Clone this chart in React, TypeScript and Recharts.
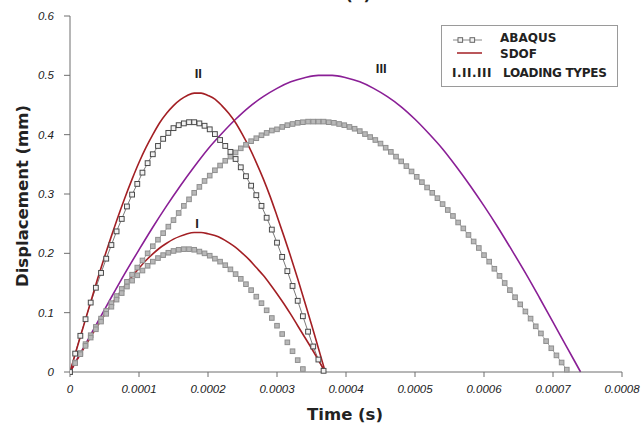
import { LineChart, Line, XAxis, YAxis, ReferenceDot, Legend } from 'recharts';

// time grid of the ABAQUS output, microseconds
const abaqusTime = [
  0, 7.5, 15, 22.5, 30, 37.5, 45, 52.5, 60, 67.5,
  75, 82.5, 90, 97.5, 105, 112.5, 120, 127.5, 135, 142.5,
  150, 157.5, 165, 172.5, 180, 187.5, 195, 202.5, 210, 217.5,
  225, 232.5, 240, 247.5, 255, 262.5, 270, 277.5, 285, 292.5,
  300, 307.5, 315, 322.5, 330, 337.5, 345, 352.5, 360, 367.5,
  375, 382.5, 390, 397.5, 405, 412.5, 420, 427.5, 435, 442.5,
  450, 457.5, 465, 472.5, 480, 487.5, 495, 502.5, 510, 517.5,
  525, 532.5, 540, 547.5, 555, 562.5, 570, 577.5, 585, 592.5,
  600, 607.5, 615, 622.5, 630, 637.5, 645, 652.5, 660, 667.5,
  675, 682.5, 690, 697.5, 705, 712.5, 720,
];

// displacement (mm)
const abaqusI = [
  0, 0.015, 0.030, 0.044, 0.058, 0.072, 0.085, 0.098, 0.110, 0.122,
  0.133, 0.144, 0.154, 0.163, 0.171, 0.179, 0.186, 0.192, 0.197, 0.201,
  0.204, 0.206, 0.207, 0.207, 0.206, 0.203, 0.200, 0.196, 0.191, 0.186,
  0.180, 0.173, 0.165, 0.157, 0.148, 0.138, 0.127, 0.116, 0.104, 0.091,
  0.078, 0.064, 0.050, 0.035, 0.020, 0.005,
];

const abaqusII = [
  0, 0.031, 0.061, 0.089, 0.117, 0.142, 0.167, 0.191, 0.214, 0.237,
  0.258, 0.279, 0.299, 0.317, 0.336, 0.352, 0.367, 0.381, 0.393, 0.403,
  0.411, 0.416, 0.419, 0.421, 0.421, 0.419, 0.415, 0.409, 0.401, 0.391,
  0.381, 0.371, 0.359, 0.345, 0.330, 0.314, 0.298, 0.280, 0.260, 0.240,
  0.218, 0.194, 0.170, 0.145, 0.120, 0.094, 0.068, 0.043, 0.021, 0.002,
];

const abaqusIII = [
  0, 0.016, 0.032, 0.047, 0.062, 0.076, 0.090, 0.103, 0.116, 0.128,
  0.140, 0.152, 0.164, 0.176, 0.188, 0.200, 0.212, 0.223, 0.234, 0.245,
  0.256, 0.268, 0.280, 0.291, 0.302, 0.312, 0.322, 0.331, 0.340, 0.348,
  0.356, 0.363, 0.370, 0.377, 0.383, 0.389, 0.394, 0.399, 0.403, 0.407,
  0.409, 0.413, 0.416, 0.418, 0.420, 0.421, 0.422, 0.422, 0.422, 0.422,
  0.421, 0.420, 0.418, 0.416, 0.413, 0.410, 0.406, 0.401, 0.396, 0.391,
  0.385, 0.378, 0.371, 0.363, 0.355, 0.347, 0.338, 0.329, 0.320, 0.311,
  0.302, 0.293, 0.283, 0.273, 0.263, 0.252, 0.242, 0.231, 0.220, 0.209,
  0.197, 0.186, 0.174, 0.162, 0.150, 0.138, 0.126, 0.114, 0.102, 0.090,
  0.077, 0.065, 0.052, 0.040, 0.028, 0.016, 0.004,
];

// SDOF solutions, microseconds
const sdofTime = [
  0, 10, 20, 30, 40, 50, 60, 70, 80, 90,
  100, 110, 120, 130, 140, 150, 160, 170, 180, 190,
  200, 210, 220, 230, 240, 250, 260, 270, 280, 290,
  300, 310, 320, 330, 340, 350, 360, 370,
];
const sdofI = [
  0, 0.020, 0.040, 0.059, 0.078, 0.096, 0.113, 0.130, 0.146, 0.161,
  0.175, 0.188, 0.199, 0.209, 0.217, 0.224, 0.229, 0.233, 0.235, 0.235,
  0.233, 0.230, 0.225, 0.218, 0.210, 0.200, 0.189, 0.176, 0.163, 0.148,
  0.132, 0.115, 0.097, 0.078, 0.059, 0.040, 0.020, 0,
];
const sdofII = [
  0, 0.040, 0.079, 0.118, 0.157, 0.194, 0.229, 0.263, 0.295, 0.325,
  0.353, 0.378, 0.400, 0.420, 0.436, 0.449, 0.459, 0.466, 0.470, 0.470,
  0.466, 0.460, 0.449, 0.436, 0.420, 0.400, 0.378, 0.353, 0.326, 0.296,
  0.263, 0.229, 0.194, 0.157, 0.119, 0.080, 0.040, 0,
];
const sdofIIITime = [
  0, 20, 40, 60, 80, 100, 120, 140, 160, 180,
  200, 220, 240, 260, 280, 300, 320, 340, 360, 380,
  400, 420, 440, 460, 480, 500, 520, 540, 560, 580,
  600, 620, 640, 660, 680, 700, 720, 740,
];
const sdofIII = [
  0, 0.042, 0.084, 0.126, 0.167, 0.206, 0.244, 0.280, 0.314, 0.346,
  0.376, 0.402, 0.426, 0.447, 0.464, 0.478, 0.489, 0.496, 0.500, 0.500,
  0.496, 0.489, 0.478, 0.464, 0.447, 0.426, 0.402, 0.376, 0.346, 0.314,
  0.280, 0.244, 0.206, 0.167, 0.126, 0.084, 0.042, 0,
];

const xTicks = [0, 0.0001, 0.0002, 0.0003, 0.0004, 0.0005, 0.0006, 0.0007, 0.0008];
const yTicks = [0, 0.1, 0.2, 0.3, 0.4, 0.5, 0.6];

// loading type labels, placed in data units
const loadLabels = [
  { text: 'I', t: 0.000184, v: 0.250 },
  { text: 'II', t: 0.000186, v: 0.504 },
  { text: 'III', t: 0.000451, v: 0.512 },
];

const toPoints = (times: number[], values: number[]) =>
  values.map((v, i) => ({ t: times[i] / 1e6, v }));

const FONT = '"DejaVu Sans", sans-serif';
const TICK_FONT = '"Liberation Sans", Arial, sans-serif';

const hollowSquare = (props: any) => {
  const { cx, cy, index } = props;
  if (cx == null || cy == null) return <g key={index} />;
  return <rect key={index} x={cx - 2.4} y={cy - 2.4} width={4.8} height={4.8} fill="#f2f2f2" stroke="#4a4a4a" strokeWidth={1} />;
};

const greySquare = (props: any) => {
  const { cx, cy, index } = props;
  if (cx == null || cy == null) return <g key={index} />;
  return <rect key={index} x={cx - 2.3} y={cy - 2.3} width={4.6} height={4.6} fill="#b8b8b8" stroke="#8f8f8f" strokeWidth={1} />;
};

const LegendBox = () => (
  <div
    style={{
      position: 'relative', width: 177, height: 62, boxSizing: 'border-box',
      border: '1px solid #9a9a9a', background: '#fff', fontFamily: FONT,
      fontSize: 12, fontWeight: 'bold', color: '#222', lineHeight: '14px',
    }}
  >
    <svg width={177} height={62} style={{ position: 'absolute', left: -1, top: -1 }}>
      <line x1={12} x2={41} y1={15} y2={15} stroke="#888" strokeWidth={1} />
      <rect x={17} y={12.7} width={4.6} height={4.6} fill="#f2f2f2" stroke="#666" />
      <rect x={29} y={12.7} width={4.6} height={4.6} fill="#f2f2f2" stroke="#666" />
      <line x1={16} x2={41} y1={28} y2={28} stroke="#a31f24" strokeWidth={1.5} />
    </svg>
    <span style={{ position: 'absolute', left: 58, top: 5 }}>ABAQUS</span>
    <span style={{ position: 'absolute', left: 58, top: 21 }}>SDOF</span>
    <span style={{ position: 'absolute', left: 10, top: 40, letterSpacing: 0.5 }}>I.II.III</span>
    <span style={{ position: 'absolute', left: 61, top: 40, letterSpacing: -0.3 }}>LOADING TYPES</span>
  </div>
);

export default function App() {
  const dataI = toPoints(abaqusTime, abaqusI);
  const dataII = toPoints(abaqusTime, abaqusII);
  const dataIII = toPoints(abaqusTime, abaqusIII);
  const sI = toPoints(sdofTime, sdofI);
  const sII = toPoints(sdofTime, sdofII);
  const sIII = toPoints(sdofIIITime, sdofIII);

  return (
    <div style={{ position: 'absolute', left: 0, top: 0, width: 644, height: 435, background: '#fff', overflow: 'hidden' }}>
      <div style={{ position: 'absolute', left: 297, top: -15, fontFamily: FONT, fontWeight: 'bold', fontSize: 16, color: '#222' }}>
        Case (a)
      </div>
      <LineChart width={644} height={435} margin={{ top: 16, right: 22, bottom: 33, left: 10 }}>
        <XAxis
          dataKey="t"
          type="number"
          domain={[0, 0.0008]}
          ticks={xTicks}
          allowDataOverflow
          height={30}
          stroke="#6e6e6e"
          tickSize={5}
          tickMargin={8}
          tick={{ fill: '#222', fontSize: 11.5, fontStyle: 'italic', fontFamily: TICK_FONT }}
          tickFormatter={(v: number) => (v === 0 ? '0' : v.toFixed(4))}
        />
        <YAxis
          dataKey="v"
          type="number"
          domain={[0, 0.6]}
          ticks={yTicks}
          width={60}
          stroke="#6e6e6e"
          tickSize={6}
          tickMargin={10}
          tick={{ fill: '#222', fontSize: 11.5, fontStyle: 'italic', fontFamily: TICK_FONT }}
          tickFormatter={(v: number) => (v === 0 ? '0' : v.toFixed(1))}
        />
        <Legend
          layout="vertical"
          align="center"
          verticalAlign="middle"
          content={<LegendBox />}
          wrapperStyle={{ left: 441, top: 25, width: 177, height: 62 }}
        />
        <Line data={dataIII} dataKey="v" type="linear" stroke="#a8a8a8" strokeWidth={1} dot={greySquare} isAnimationActive={false} legendType="none" />
        <Line data={dataI} dataKey="v" type="linear" stroke="none" dot={greySquare} isAnimationActive={false} legendType="none" />
        <Line data={dataII} dataKey="v" type="linear" stroke="#7a7a7a" strokeWidth={1} dot={hollowSquare} isAnimationActive={false} legendType="none" />
        <Line data={sIII} dataKey="v" type="monotone" stroke="#8a1f96" strokeWidth={1.6} dot={false} isAnimationActive={false} legendType="none" />
        <Line data={sI} dataKey="v" type="monotone" stroke="#a31f24" strokeWidth={1.6} dot={false} isAnimationActive={false} legendType="none" />
        <Line data={sII} dataKey="v" type="monotone" stroke="#a31f24" strokeWidth={1.6} dot={false} isAnimationActive={false} legendType="none" />
        {loadLabels.map((l) => (
          <ReferenceDot
            key={l.text}
            x={l.t}
            y={l.v}
            r={0}
            stroke="none"
            label={{ value: l.text, position: 'center', fill: '#222', fontSize: 13, fontWeight: 'bold', fontFamily: TICK_FONT }}
          />
        ))}
      </LineChart>
      <div
        style={{
          position: 'absolute', left: 22, top: 196, transform: 'translate(-50%, -50%) rotate(-90deg)',
          whiteSpace: 'nowrap', fontFamily: FONT, fontWeight: 'bold', fontSize: 16.5, color: '#222',
        }}
      >
        Displacement (mm)
      </div>
      <div
        style={{
          position: 'absolute', left: 345, top: 414, transform: 'translate(-50%, -50%)',
          whiteSpace: 'nowrap', fontFamily: FONT, fontWeight: 'bold', fontSize: 16.5, color: '#222',
        }}
      >
        Time (s)
      </div>
    </div>
  );
}
